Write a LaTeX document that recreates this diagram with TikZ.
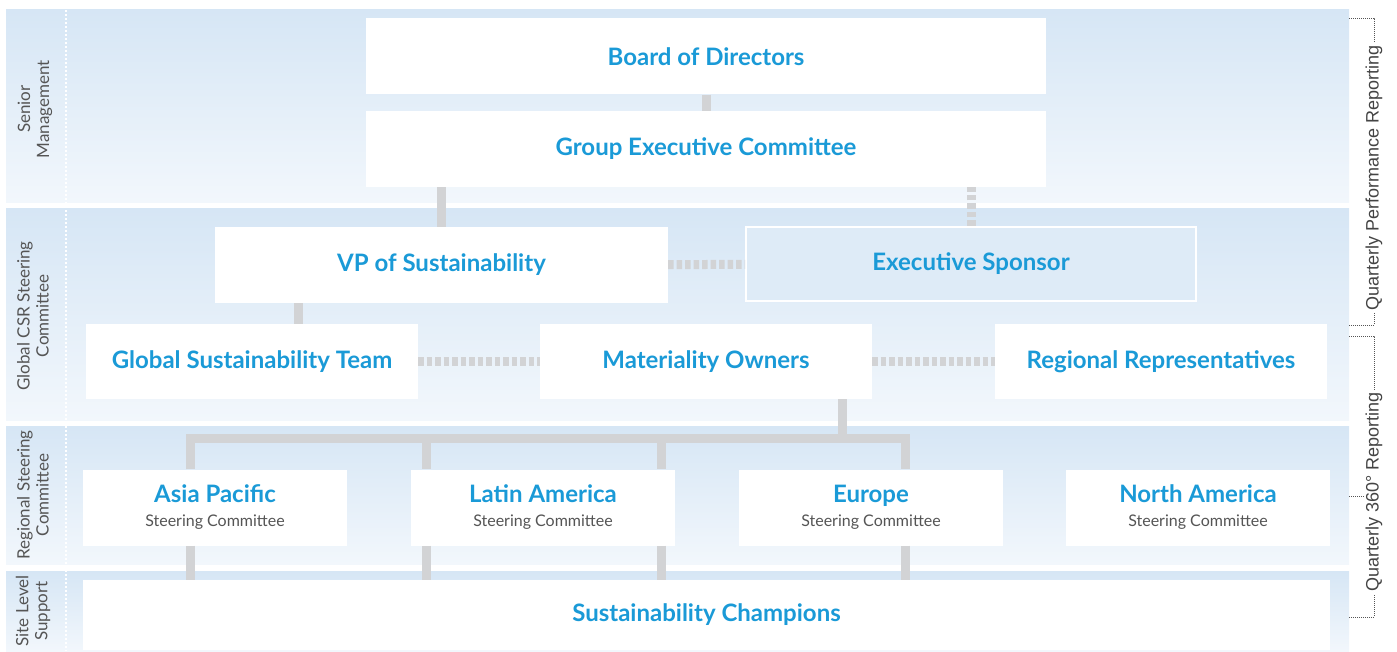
\documentclass[tikz,border=0pt]{standalone}
\usepackage{fontspec}
\setmainfont{Lato}
\newfontfamily\sidefont{Liberation Sans}
\usepackage{tikz}
\usetikzlibrary{positioning, calc}
\definecolor{orgblue}{HTML}{1A9AD7}
\definecolor{linkgray}{HTML}{D2D3D5}
\definecolor{lanetop}{HTML}{D6E6F5}
\definecolor{lanebot}{HTML}{F2F7FC}
\definecolor{labelgray}{HTML}{555555}

\begin{document}
\begin{tikzpicture}[x=1pt, y=1pt,
  lane/.style={top color=lanetop, bottom color=lanebot, draw=none,
               minimum width=1343pt, inner sep=0pt},
  unit/.style={fill=white, draw=none, inner sep=0pt, align=center,
               text=orgblue, font=\fontsize{24}{27}\selectfont\bfseries},
  region/.style={unit, minimum width=264pt, minimum height=76pt},
  sponsor/.style={unit, fill=lanetop!70!lanebot, draw=white, line width=2pt},
  lanelabel/.style={rotate=90, align=center, text=labelgray,
                    font=\fontsize{17}{19}\selectfont},
  sidelabel/.style={rotate=90, fill=white, inner sep=2pt, text=labelgray!80!black,
                    font=\sidefont\fontsize{18}{20}\selectfont},
  link/.style={linkgray, line width=9pt},
  duty/.style={linkgray, line width=9pt, dash pattern=on 5.5pt off 3pt},
  report/.style={labelgray, line width=0.6pt, dash pattern=on 1pt off 1pt}
]
\useasboundingbox (0,0) rectangle (1397,-652);

% lanes
\node[lane, minimum height=193pt] (lane1) at (677.5,-106.5) {};
\node[lane, minimum height=211pt] (lane2) at (677.5,-314.5) {};
\node[lane, minimum height=138pt] (lane3) at (677.5,-495) {};
\node[lane, minimum height=80pt]  (lane4) at (677.5,-611) {};
\draw[white, line width=1.5pt, dash pattern=on 2pt off 2pt] (66,-10) -- (66,-651);

\node[lanelabel] (lab1) at (35,-109) {Senior\\Management};
\node[lanelabel] (lab2) at (33,-316) {Global CSR Steering\\Committee};
\node[lanelabel] (lab3) at (33,-495) {Regional Steering\\Committee};
\node[lanelabel] (lab4) at (33,-611) {Site Level\\Support};

% senior management
\node[unit, minimum width=680pt, minimum height=76pt] (bod) at (706,-56.5) {Board of Directors};
\node[unit, minimum width=680pt, minimum height=76pt] (gec) at (706,-149) {Group Executive Committee};

% global CSR steering committee
\node[unit, minimum width=453pt, minimum height=76pt] (vp) at (441.5,-265) {VP of Sustainability};
\node[sponsor, minimum width=450pt, minimum height=74pt] (es) at (971,-264) {Executive Sponsor};
\node[unit, minimum width=332pt, minimum height=75pt] (gst) at (252,-361.5) {Global Sustainability Team};
\node[unit, minimum width=332pt, minimum height=75pt] (mo) at (706,-361.5) {Materiality Owners};
\node[unit, minimum width=332pt, minimum height=75pt] (rr) at (1161,-361.5) {Regional Representatives};

% regional steering committees
\newcommand{\regionname}[1]{#1\\[-3pt]{\fontsize{16}{18}\selectfont\mdseries\color{labelgray}Steering Committee}}
\node[region] (ap) at (215,-507.5) {\regionname{Asia Pacific}};
\node[region] (la) at (543,-507.5) {\regionname{Latin America}};
\node[region] (eu) at (871,-507.5) {\regionname{Europe}};
\node[region] (na) at (1198,-507.5) {\regionname{North America}};

% site level
\node[unit, minimum width=1247pt, minimum height=70pt] (sc) at (706.5,-615) {Sustainability Champions};

% links
\draw[link] (bod) -- (gec);
\draw[link] (vp.north) -- (vp.north |- gec.south);
\draw[duty] (es.north) -- (es.north |- gec.south);
\draw[duty] (vp) -- (es);
\coordinate (vpfoot) at ([xshift=84pt]vp.south west);
\draw[link] (vpfoot) -- (vpfoot |- gst.north);
\draw[duty] (gst) -- (mo);
\draw[duty] (mo) -- (rr);

\coordinate (mofoot) at ([xshift=-30pt]mo.south east);
\coordinate (barl) at (190,-438);
\coordinate (barr) at (905,-438);
\draw[link] (mofoot) -- (mofoot |- barr);
\draw[link] (barl |- ap.north) -- (barl) -- (barr) -- (barr |- eu.north);
\foreach \x in {426,661} \draw[link] (\x,-438) -- (\x,0 |- la.north);
\foreach \x in {190,426,661,905} \draw[link] (\x,0 |- ap.south) -- (\x,0 |- sc.north);

% reporting brackets
\coordinate (qp1) at (1349,-18);
\coordinate (qp2) at (1349,-325);
\coordinate (qr1) at (1349,-336);
\coordinate (qr2) at (1349,-617);
\coordinate (qrm) at (1349,-496);
\draw[report] (qp1) -- (qp1 -| 1374,0) -- (qp2 -| 1374,0) -- (qp2);
\draw[report] (qr1) -- (qr1 -| 1374,0) -- (qr2 -| 1374,0) -- (qr2);
\draw[report] (qrm) -- ++(18,0);
\node[sidelabel] (qperf) at (1374,-178) {Quarterly Performance Reporting};
\node[sidelabel] (q360) at (1374,-492) {Quarterly 360° Reporting};
\end{tikzpicture}
\end{document}
